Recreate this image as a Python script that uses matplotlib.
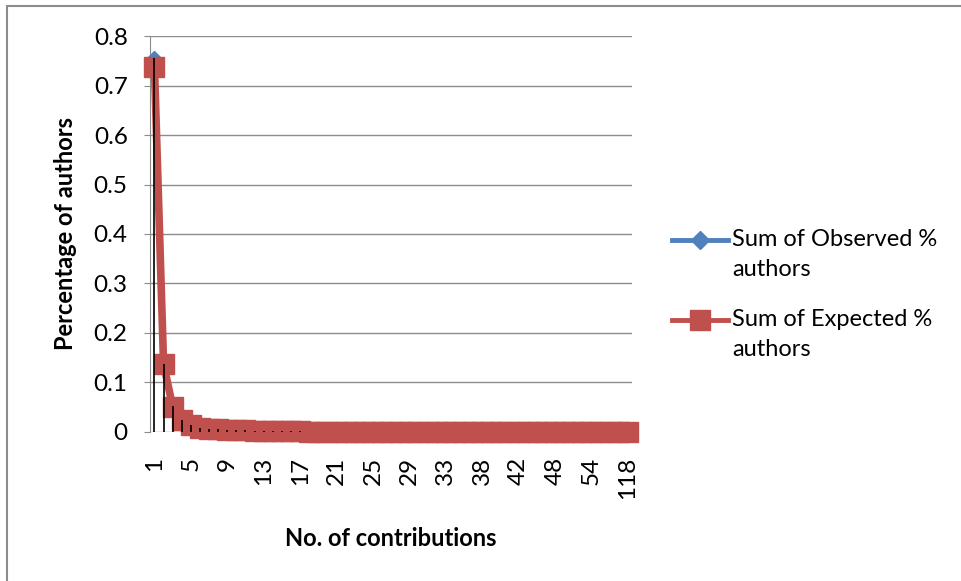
import numpy as np
import matplotlib.pyplot as plt
from matplotlib.patches import Rectangle
from matplotlib.lines import Line2D

# categories (no. of contributions)
contributions = list(range(1, 34)) + [34, 35, 37, 38, 39, 40, 41, 42, 43, 45, 47,
                                      48, 50, 52, 53, 54, 57, 63, 80, 118]
observed = [0.755, 0.136, 0.052, 0.024, 0.014, 0.009, 0.006, 0.005, 0.004, 0.003,
            0.003, 0.002, 0.002, 0.002, 0.001, 0.001, 0.001] + [0.0005] * 36
expected = [0.737, 0.137, 0.051, 0.024, 0.014, 0.009, 0.006, 0.005, 0.004, 0.003,
            0.003, 0.002, 0.002, 0.002, 0.001, 0.001, 0.001] + [0.0] * 36
series_names = ['Sum of Observed %', 'Sum of Expected %']

red = '#C0504D'
blue = '#4F81BD'
plt.rcParams['font.family'] = ['Lato', 'DejaVu Sans']

fig = plt.figure(figsize=(9.61, 5.81), dpi=100)
ax = fig.add_axes([0.156, 0.2565, 0.502, 0.6815])

x = np.arange(len(contributions))
ax.plot(x, observed, color=blue, lw=3.5, marker='D', ms=7, zorder=3)
ax.plot(x, expected, color=red, lw=5.5, marker='s', ms=14, zorder=4)
ax.vlines(x, 0, np.maximum(observed, expected), color='black', lw=1.2, zorder=5)

ax.set_xlim(-0.5, len(x) - 0.5)
ax.set_ylim(0, 0.8)
ax.set_yticks(np.arange(0, 0.81, 0.1))
ax.set_yticklabels(['0', '0.1', '0.2', '0.3', '0.4', '0.5', '0.6', '0.7', '0.8'])
ax.set_xticks(x[::4])
ax.set_xticklabels([str(c) for c in contributions[::4]], rotation=90)
ax.grid(axis='y', color='#8c8c8c', lw=1)
ax.set_axisbelow(True)
for s in ['top', 'right', 'bottom']:
    ax.spines[s].set_visible(False)
ax.spines['left'].set_color('#8c8c8c')
ax.tick_params(axis='y', length=4, color='#8c8c8c', labelsize=17.5, pad=12)
ax.tick_params(axis='x', length=0, labelsize=17.5, pad=18)
for ln in ax.lines:
    ln.set_clip_on(False)

ax.set_ylabel('Percentage of authors', fontsize=17, fontweight='bold', labelpad=12)
ax.set_xlabel('No. of contributions', fontsize=17, fontweight='bold', labelpad=20)

# legend drawn by hand: Excel puts the key next to the first line of the text
W, H = 961, 581
for k, (name, col, mk, ms) in enumerate([(series_names[0], blue, 'D', 9),
                                         (series_names[1], red, 's', 14)]):
    yk = 1 - (240 + 80 * k) / H
    fig.add_artist(Line2D([672 / W, 728 / W], [yk, yk], color=col, lw=3.5,
                          transform=fig.transFigure))
    fig.add_artist(Line2D([700 / W], [yk], color=col, marker=mk, ms=ms, lw=0,
                          transform=fig.transFigure))
    fig.text(732 / W, yk, name, fontsize=17, va='center')
    fig.text(732 / W, yk - 30 / H, 'authors', fontsize=17, va='center')

fig.patches.append(Rectangle((7 / W, -0.1), 1.2, 1.1 - 6 / H, transform=fig.transFigure,
                             fill=False, edgecolor='#8c8c8c', lw=1.5))

fig.savefig('out.png', dpi=100)
